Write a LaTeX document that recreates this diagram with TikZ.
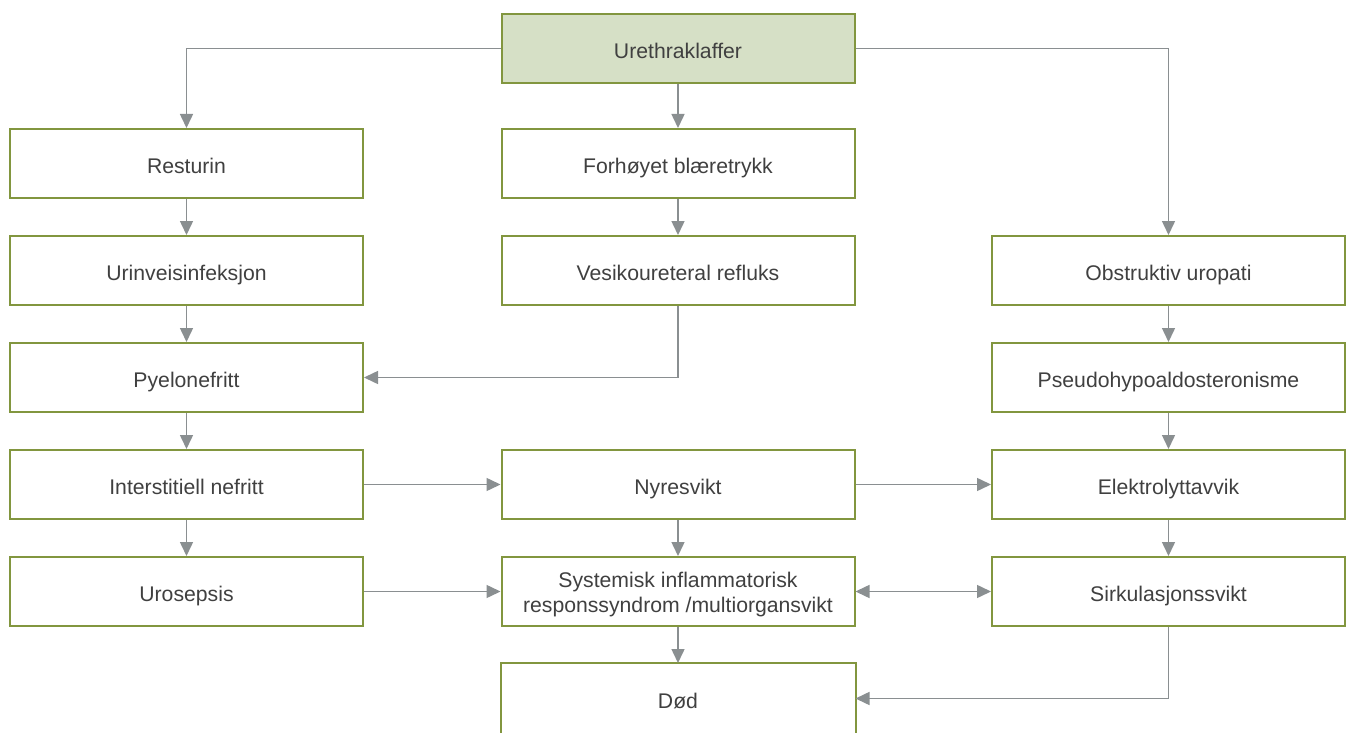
\documentclass[tikz,border=0pt]{standalone}
\usepackage{fontspec}
\setmainfont{Liberation Sans}
\usetikzlibrary{arrows.meta}
\definecolor{boxline}{HTML}{82963F}
\definecolor{boxfill}{HTML}{D6E0C6}
\definecolor{arrgray}{HTML}{8A8F91}
\definecolor{txt}{HTML}{404040}
\begin{document}
\begin{tikzpicture}[x=0.5pt,y=-0.5pt,
  basebox/.style={draw=boxline,line width=1pt,minimum width=176.5pt,minimum height=34.5pt,
    inner sep=0pt,align=center,text=txt,font=\fontsize{10.6}{12.5}\selectfont},
  box/.style={basebox,text height=9.6pt,text depth=0pt},
  topbox/.style={box,fill=boxfill},
  tip/.tip={Triangle[length=7pt,width=6.5pt]},
  conn/.style={draw=arrgray,line width=0.75pt,-tip},
  conn2/.style={draw=arrgray,line width=0.75pt,tip-tip}]
\clip (0,0) rectangle (1350,733);
\fill[white] (0,0) rectangle (1350,733);
\node[topbox] (ureth) at (678,48.5) {Urethraklaffer};
\node[box] (rest) at (186.5,163.5) {Resturin};
\node[box] (uvi) at (186.5,270.5) {Urinveisinfeksjon};
\node[box] (pyel) at (186.5,377.5) {Pyelonefritt};
\node[box] (inter) at (186.5,484.5) {Interstitiell nefritt};
\node[box] (uros) at (186.5,591.5) {Urosepsis};
\node[box] (forh) at (678,163.5) {Forhøyet blæretrykk};
\node[box] (vesi) at (678,270.5) {Vesikoureteral refluks};
\node[box] (nyre) at (678,484.5) {Nyresvikt};
\node[basebox] (sirs) at (678,591.5) {\raisebox{-1.5pt}[\height][\depth]{\begin{tabular}{@{}c@{}}Systemisk inflammatorisk\\responssyndrom /multiorgansvikt\end{tabular}}};
\node[box,draw=none] (dod) at (678,698.5) {Død};
\draw[boxline,line width=1pt] ([yshift=-20pt]dod.south west) -- (dod.north west) -- (dod.north east) -- ([yshift=-20pt]dod.south east);
\node[box] (obst) at (1168.5,270.5) {Obstruktiv uropati};
\node[box] (pseu) at (1168.5,377.5) {Pseudohypoaldosteronisme};
\node[box] (elek) at (1168.5,484.5) {Elektrolyttavvik};
\node[box] (sirk) at (1168.5,591.5) {Sirkulasjonssvikt};
\draw[conn] (ureth.west) -| (rest.north);
\draw[conn] (ureth) -- (forh);
\draw[conn] (ureth.east) -| (obst.north);
\draw[conn] (rest) -- (uvi);
\draw[conn] (uvi) -- (pyel);
\draw[conn] (pyel) -- (inter);
\draw[conn] (inter) -- (uros);
\draw[conn] (forh) -- (vesi);
\draw[conn] (vesi.south) |- (pyel.east);
\draw[conn] (inter) -- (nyre);
\draw[conn] (nyre) -- (elek);
\draw[conn] (nyre) -- (sirs);
\draw[conn] (uros) -- (sirs);
\draw[conn2] (sirs) -- (sirk);
\draw[conn] (sirs) -- (dod);
\draw[conn] (obst) -- (pseu);
\draw[conn] (pseu) -- (elek);
\draw[conn] (elek) -- (sirk);
\draw[conn] (sirk.south) |- (dod.east);
\end{tikzpicture}
\end{document}
